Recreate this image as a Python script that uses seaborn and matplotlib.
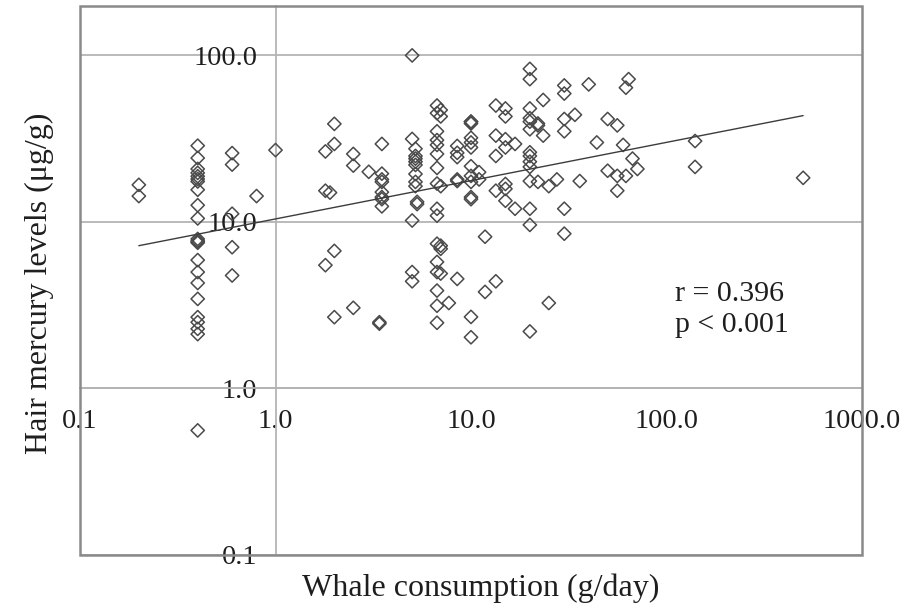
import numpy as np
import pandas as pd
import matplotlib
matplotlib.use("Agg")
import matplotlib.pyplot as plt
from matplotlib.patches import Rectangle
from matplotlib.ticker import FixedLocator, FixedFormatter, NullLocator
import seaborn as sns

# Whale meat intake (g/day) and hair mercury (ug/g), one entry per participant
whale_g_day = (
    [0.2] * 2
    + [0.4] * 23
    + [0.6] * 5
    + [0.8, 1.0]
    + [1.8] * 3 + [1.9]
    + [2.0] * 4
    + [2.5] * 3
    + [3.0]
    + [3.4] * 2
    + [3.5] * 8
    + [5.0] * 5
    + [5.2] * 8
    + [5.3] * 2
    + [6.7] * 16
    + [7.0] * 6
    + [7.7]
    + [8.5] * 6
    + [10.0] * 13
    + [11.0] * 2
    + [11.8] * 2
    + [13.4] * 5
    + [15.0] * 7
    + [16.8] * 2
    + [20.0] * 14
    + [22.0] * 3
    + [23.4] * 2
    + [25.0] * 2
    + [27.5]
    + [30.0] * 6
    + [34.0, 36.0, 40.0, 44.0]
    + [50.0] * 2
    + [56.0] * 3
    + [60.0]
    + [62.0] * 2
    + [64.0, 67.0, 71.0]
    + [140.0] * 2
    + [500.0]
)

hair_hg_ug_g = (
    [16.7, 14.3]
    + [28.7, 24.2, 20.8, 19.7, 18.8, 18.1, 17.5, 15.6, 12.6, 10.5, 7.9, 7.7,
       7.6, 7.5, 5.9, 5.0, 4.3, 3.45, 2.68, 2.5, 2.28, 2.12, 0.56]
    + [25.9, 22.1, 11.2, 7.05, 4.77]
    + [14.3, 27.0]
    + [26.5, 15.4, 5.5, 15.0]
    + [38.8, 29.4, 6.7, 2.68]
    + [25.6, 21.8, 3.05]
    + [20.0]
    + [2.5, 2.45]
    + [29.4, 19.5, 18.0, 17.4, 15.1, 14.1, 12.4, 13.7]
    + [100.0, 31.5, 10.2, 5.0, 4.4]
    + [27.5, 24.9, 24.0, 23.0, 22.0, 19.4, 17.4, 16.4]
    + [13.2, 12.8]
    + [50.0, 45.0, 35.0, 31.0, 29.0, 25.6, 21.1, 17.0, 12.0, 10.9, 7.4, 5.75,
       5.0, 3.87, 3.14, 2.48]
    + [47.0, 43.0, 16.4, 7.2, 6.9, 4.9]
    + [3.26]
    + [28.6, 26.0, 24.5, 18.0, 17.6, 4.55]
    + [40.0, 40.0, 39.0, 32.0, 30.0, 28.0, 21.6, 18.9, 17.4, 14.1, 13.7, 2.69, 2.03]
    + [18.0, 19.9]
    + [8.15, 3.8]
    + [50.0, 33.0, 24.9, 15.4, 4.4]
    + [48.0, 43.0, 31.4, 28.0, 16.9, 15.8, 13.4]
    + [29.4, 12.0]
    + [83.0, 72.0, 48.0, 42.0, 40.0, 36.0, 26.2, 24.9, 23.0, 21.4, 17.6, 12.0, 9.6, 2.2]
    + [39.0, 38.0, 17.4]
    + [54.0, 33.0]
    + [16.4, 3.26]
    + [18.0]
    + [66.0, 59.0, 41.5, 35.0, 12.0, 8.5]
    + [44.0, 17.6, 67.0, 30.0]
    + [41.5, 20.3]
    + [38.0, 18.9, 15.4]
    + [29.0]
    + [64.0, 18.9]
    + [72.0, 24.0, 20.8]
    + [30.6, 21.4]
    + [18.4]
)

# Fitted log-log regression line end points
trend_x = [0.2, 500.0]
trend_y = [7.2, 43.5]

stats_text = ["r = 0.396", "p < 0.001"]

x_ticks = [0.1, 1.0, 10.0, 100.0, 1000.0]
x_tick_labels = ["0.1", "1.0", "10.0", "100.0", "1000.0"]
y_ticks = [0.1, 1.0, 10.0, 100.0]
y_tick_labels = ["0.1", "1.0", "10.0", "100.0"]

df = pd.DataFrame({"consumption": whale_g_day, "mercury": hair_hg_ug_g})
trend = pd.DataFrame({"consumption": trend_x, "mercury": trend_y})

sns.set_style("white")
plt.rcParams["font.family"] = ["Liberation Serif", "DejaVu Serif"]

text_color = "#1e1e1e"
grid_color = "#b4b4b4"
frame_color = "#8a8a8a"
mark_color = "#4a4a4a"

fig = plt.figure(figsize=(9.07, 6.10), dpi=100)
ax = fig.add_axes([80 / 907, 55 / 610, 782 / 907, 549 / 610])

ax.set_xscale("log")
ax.set_yscale("log")
ax.set_xlim(0.1, 1000)
ax.set_ylim(0.1, 198)

sns.scatterplot(
    data=df, x="consumption", y="mercury", ax=ax,
    marker="D", s=46, facecolor="none", edgecolor=mark_color,
    linewidth=1.1, zorder=3, legend=False,
)
sns.lineplot(
    data=trend, x="consumption", y="mercury", ax=ax,
    color="#3c3c3c", linewidth=1.0, zorder=4, legend=False,
)

# Axes cross at (1, 1)
ax.spines["left"].set_position(("data", 1.0))
ax.spines["bottom"].set_position(("data", 1.0))
for side in ("left", "bottom"):
    ax.spines[side].set_color(grid_color)
    ax.spines[side].set_linewidth(1.3)
    ax.spines[side].set_zorder(1)
ax.spines["top"].set_visible(False)
ax.spines["right"].set_visible(False)

ax.xaxis.set_major_locator(FixedLocator(x_ticks))
ax.xaxis.set_major_formatter(FixedFormatter(x_tick_labels))
ax.xaxis.set_minor_locator(NullLocator())
ax.yaxis.set_major_locator(FixedLocator(y_ticks))
ax.yaxis.set_major_formatter(FixedFormatter(y_tick_labels))
ax.yaxis.set_minor_locator(NullLocator())

ax.tick_params(axis="x", direction="out", length=5, width=1.3, color=grid_color,
               pad=10, labelsize=20.5, labelcolor=text_color)
ax.tick_params(axis="y", length=0, pad=13, labelsize=20.5, labelcolor=text_color)

ax.yaxis.grid(True, color=grid_color, linewidth=1.3, zorder=0)
ax.xaxis.grid(False)
ax.set_axisbelow(True)

# Outer frame of the plotting area
ax.add_patch(Rectangle((0, 0), 1, 1, transform=ax.transAxes, fill=False,
                       edgecolor=frame_color, linewidth=1.8, clip_on=False, zorder=5))

ax.set_xlabel("")
ax.set_ylabel("")
fig.text(481 / 907, 1 - 588 / 610, "Whale consumption (g/day)", ha="center", va="center",
         fontsize=23, color=text_color)
fig.text(39 / 907, 1 - 283 / 610, "Hair mercury levels (μg/g)", ha="center", va="center",
         rotation=90, fontsize=23, color=text_color)

ax.text(0.761, 0.448, "\n".join(stats_text), transform=ax.transAxes, ha="left", va="center",
        fontsize=21.5, color=text_color, linespacing=1.25)

fig.savefig("out.png", dpi=100)
